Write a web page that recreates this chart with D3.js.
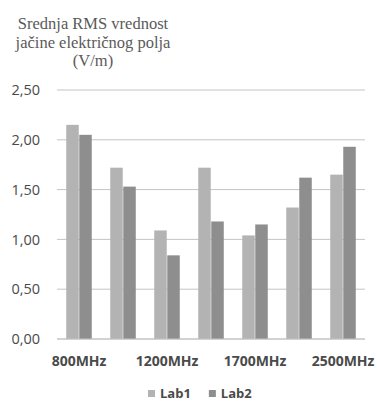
<!DOCTYPE html>
<html>
<head>
<meta charset="utf-8">
<script src="https://cdn.jsdelivr.net/npm/d3@7"></script>
<style>
  html, body { margin: 0; padding: 0; background: #fff; }
  svg { display: block; }
</style>
</head>
<body>
<script>
// Frequencies (every other label is shown on the axis)
const categories = ["800MHz", "900MHz", "1200MHz", "1500MHz", "1700MHz", "2100MHz", "2500MHz"];
const seriesNames = ["Lab1", "Lab2"];
const lab1 = [2.15, 1.72, 1.09, 1.72, 1.04, 1.32, 1.65];
const lab2 = [2.05, 1.53, 0.84, 1.18, 1.15, 1.62, 1.93];
const yTicks = [0, 0.5, 1.0, 1.5, 2.0, 2.5];
const titleLines = ["Srednja RMS vrednost", "jačine električnog polja", "(V/m)"];

const W = 377, H = 403;
const margin = { top: 90, right: 12, bottom: 64, left: 57 };
const colors = { Lab1: "#b3b3b3", Lab2: "#8e8e8e" };
const sans = "'Open Sans', 'Noto Sans', sans-serif";

const svg = d3.select("body").append("svg").attr("width", W).attr("height", H);

const x0 = d3.scaleBand().domain(categories)
  .range([margin.left, W - margin.right]).paddingInner(0.42).paddingOuter(0.21);
const x1 = d3.scaleBand().domain(seriesNames).range([0, x0.bandwidth()]).paddingInner(0.04);
const y = d3.scaleLinear().domain([0, 2.5]).range([H - margin.bottom, margin.top]);

const fmt = v => d3.format(".2f")(v).replace(".", ",");

// Horizontal gridlines
svg.append("g").selectAll("line").data(yTicks).join("line")
  .attr("x1", margin.left).attr("x2", W - margin.right)
  .attr("y1", d => y(d)).attr("y2", d => y(d))
  .attr("stroke", "#c4c4c4").attr("stroke-width", 1);

// Y axis labels
const yAxis = d3.axisLeft(y).tickValues(yTicks).tickFormat(fmt).tickSize(0).tickPadding(17);
const gy = svg.append("g").attr("transform", `translate(${margin.left},0)`).call(yAxis);
gy.select(".domain").remove();
gy.selectAll("text").attr("fill", "#4a4a4a")
  .style("font-family", sans).style("font-size", "14.5px");

// Bars
const rows = categories.map((c, i) => ({ cat: c, vals: [{ s: "Lab1", v: lab1[i] }, { s: "Lab2", v: lab2[i] }] }));
const groups = svg.append("g").selectAll("g").data(rows).join("g")
  .attr("transform", d => `translate(${x0(d.cat)},0)`);
groups.selectAll("rect").data(d => d.vals).join("rect")
  .attr("x", d => x1(d.s)).attr("width", x1.bandwidth())
  .attr("y", d => y(d.v)).attr("height", d => y(0) - y(d.v))
  .attr("fill", d => colors[d.s]);

// X axis baseline
svg.append("line")
  .attr("x1", margin.left).attr("x2", W - margin.right)
  .attr("y1", y(0)).attr("y2", y(0))
  .attr("stroke", "#c4c4c4");

// X axis labels (every other category)
const xAxis = d3.axisBottom(x0).tickSize(0).tickPadding(17)
  .tickFormat((d, i) => i % 2 === 0 ? d : "");
const gx = svg.append("g").attr("transform", `translate(0,${y(0)})`).call(xAxis);
gx.select(".domain").remove();
gx.selectAll("text").attr("fill", "#4a4a4a")
  .style("font-family", sans)
  .style("font-size", "14px").style("font-weight", "bold");

// Title
const title = svg.append("text")
  .attr("text-anchor", "middle").attr("fill", "#5a5a5a")
  .style("font-family", "'Liberation Serif', 'Times New Roman', serif").style("font-size", "16.5px");
titleLines.forEach((t, i) => {
  title.append("tspan").attr("x", 93).attr("y", 29 + i * 18.5).text(t);
});

// Legend
const legend = svg.append("g").attr("transform", "translate(148,398)");
let lx = 0;
seriesNames.forEach(s => {
  const g = legend.append("g").attr("transform", `translate(${lx},0)`);
  g.append("rect").attr("x", 0).attr("y", -8).attr("width", 7).attr("height", 7).attr("fill", colors[s]);
  const t = g.append("text").attr("x", 12).attr("y", 0).attr("fill", "#4a4a4a")
    .style("font-family", sans)
    .style("font-size", "13px").style("font-weight", "bold").text(s);
  lx += 12 + t.node().getComputedTextLength() + 18;
});
</script>
</body>
</html>
